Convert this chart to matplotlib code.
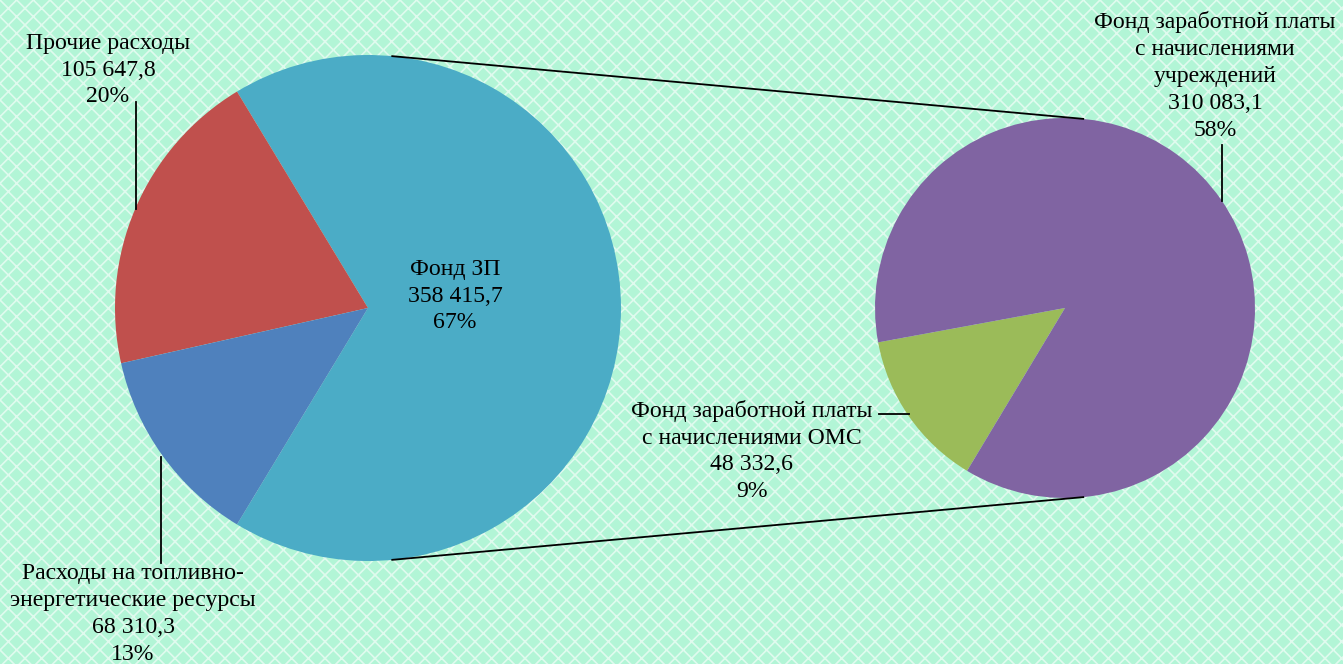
import matplotlib
matplotlib.use("Agg")
import matplotlib.pyplot as plt
from matplotlib.patches import Rectangle
import numpy as np

# Data
main_labels = ["Фонд ЗП", "Прочие расходы", "Расходы на топливно-\nэнергетические ресурсы"]
main_values = [358415.7, 105647.8, 68310.3]
main_values_txt = ["358 415,7", "105 647,8", "68 310,3"]
main_pct = ["67%", "20%", "13%"]
main_colors = ["#4BACC6", "#C0504D", "#4F81BD"]

sub_labels = ["Фонд заработной платы\nс начислениями ОМС", "Фонд заработной платы\nс начислениями\nучреждений"]
sub_values = [48332.6, 310083.1]
sub_values_txt = ["48 332,6", "310 083,1"]
sub_pct = ["9%", "58%"]
sub_colors = ["#9BBB59", "#8064A2"]

W, H = 1343, 664
fig = plt.figure(figsize=(W / 100, H / 100), dpi=100)
ax = fig.add_axes([0, 0, 1, 1])
ax.set_xlim(0, W)
ax.set_ylim(0, H)
ax.axis("off")

# background
plt.rcParams['hatch.linewidth'] = 1.2
bg = Rectangle((0, 0), W, H, facecolor="#b2f5d6", edgecolor=(1, 1, 1, 0.6), lw=0, hatch="xx", zorder=0)
ax.add_patch(bg)

font = ["Liberation Serif", "DejaVu Serif"]
fs = 17.1

# Left pie
c1 = (368, 356); r1 = 253
tot = sum(main_values)
start1 = -0.5 * main_values[0] / tot * 360
ax.pie(main_values, colors=main_colors, center=c1, radius=r1, startangle=start1,
       counterclock=True, wedgeprops=dict(linewidth=0), frame=True)

# Right pie
c2 = (1065, 356); r2 = 190
stot = sum(sub_values)
start2 = 214.7 - 0.5 * sub_values[0] / stot * 360
ax.pie(sub_values, colors=sub_colors, center=c2, radius=r2, startangle=start2,
       counterclock=True, wedgeprops=dict(linewidth=0), frame=True)

ax.set_xlim(0, W)
ax.set_ylim(0, H)
ax.set_aspect("equal")
ax.axis("off")

# connector lines
a = np.deg2rad(84.5)
for s in (1, -1):
    p1 = (c1[0] + r1 * np.cos(a), c1[1] + s * r1 * np.sin(a))
    p2 = (c2[0] + r2 * np.cos(a), c2[1] + s * r2 * np.sin(a))
    ax.plot([p1[0], p2[0]], [p1[1], p2[1]], color="black", lw=1.3, zorder=5)

def lab(x, y, s):
    ax.text(x, H - y, s, ha="center", va="center", fontsize=fs, family=font,
            linespacing=1.37, zorder=6)

lab(455, 296, f"{main_labels[0]}\n{main_values_txt[0]}\n{main_pct[0]}")
lab(108, 70, f"{main_labels[1]}\n{main_values_txt[1]}\n{main_pct[1]}")
lab(133, 614, f"{main_labels[2]}\n{main_values_txt[2]}\n{main_pct[2]}")
lab(1215, 76, f"{sub_labels[1]}\n{sub_values_txt[1]}\n{sub_pct[1]}")
lab(752, 451, f"{sub_labels[0]}\n{sub_values_txt[0]}\n{sub_pct[0]}")

# leader lines
ax.plot([136, 136], [H - 102, H - 209], color="black", lw=1.3, zorder=5)
ax.plot([161, 161], [H - 457, H - 563], color="black", lw=1.3, zorder=5)
ax.plot([1222, 1222], [H - 145, H - 201], color="black", lw=1.3, zorder=5)
ax.plot([879, 909], [H - 414, H - 414], color="black", lw=1.3, zorder=5)

fig.savefig("out.png", dpi=100)
